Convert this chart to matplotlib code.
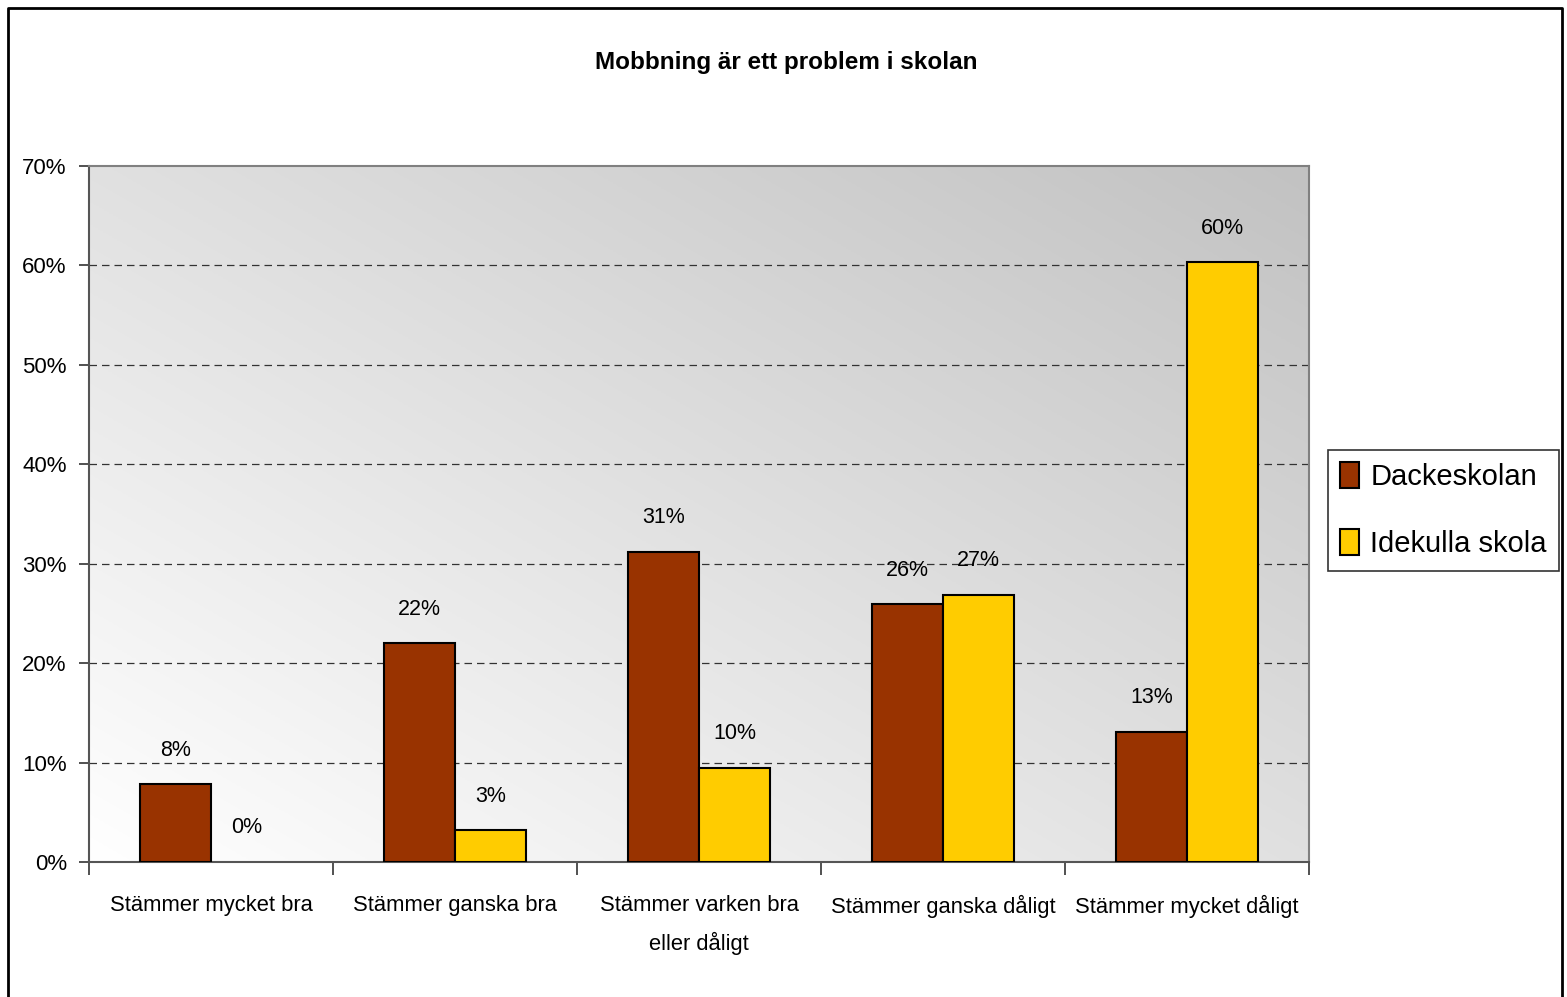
import matplotlib
matplotlib.use("Agg")
import matplotlib.pyplot as plt
import numpy as np
from matplotlib.lines import Line2D
from matplotlib.patches import Patch

categories = ["Stämmer mycket bra", "Stämmer ganska bra", "Stämmer varken bra\neller dåligt",
              "Stämmer ganska dåligt", "Stämmer mycket dåligt"]
series_names = ["Dackeskolan", "Idekulla skola"]
dacke = [7.8, 22.0, 31.2, 25.9, 13.1]
idekulla = [0.0, 3.2, 9.5, 26.9, 60.3]
dacke_labels = ["8%", "22%", "31%", "26%", "13%"]
idekulla_labels = ["0%", "3%", "10%", "27%", "60%"]
yticks = [0, 10, 20, 30, 40, 50, 60, 70]
ytick_labels = ["0%", "10%", "20%", "30%", "40%", "50%", "60%", "70%"]

FONT = ['Liberation Sans', 'DejaVu Sans']
plt.rcParams['font.family'] = FONT

W, H = 1567, 997
fig = plt.figure(figsize=(W / 100, H / 100), dpi=100)
L, R, T, B = 89, 1309, 166, 862
ax = fig.add_axes([L / W, (H - B) / H, (R - L) / W, (B - T) / H])

# gradient background
n = 256
xx, yy = np.meshgrid(np.linspace(0, 1, n), np.linspace(0, 1, n))
g = (xx + yy) / 2.0
c_lo = np.array([1.0, 1.0, 1.0])
c_hi = np.array([0.76, 0.76, 0.76])
img = c_lo[None, None, :] * (1 - g[..., None]) + c_hi[None, None, :] * g[..., None]
ax.imshow(img, extent=[-0.5, 4.5, 0, 70], origin='lower', aspect='auto', zorder=0)

x = np.arange(len(categories))
bw = 0.29
c1, c2 = "#993300", "#FFCC00"
b1 = ax.bar(x - bw / 2, dacke, bw, color=c1, edgecolor='black', linewidth=1.5, zorder=3)
b2 = ax.bar(x + bw / 2, idekulla, bw, color=c2, edgecolor='black', linewidth=1.5, zorder=3)
for p, v in zip(b2.patches, idekulla):
    if v == 0:
        p.set_linewidth(0)

for xi, v, lab in zip(x - bw / 2, dacke, dacke_labels):
    ax.annotate(lab, (xi, v), xytext=(0, 24.5), textcoords='offset points', ha='center', va='center',
                fontsize=15.5, zorder=5)
for xi, v, lab in zip(x + bw / 2, idekulla, idekulla_labels):
    ax.annotate(lab, (xi, v), xytext=(0, 24.5), textcoords='offset points', ha='center', va='center',
                fontsize=15.5, zorder=5)

ax.set_xlim(-0.5, 4.5)
ax.set_ylim(0, 70)
ax.set_yticks(yticks)
ax.set_yticklabels(ytick_labels, fontsize=16)
for yv in yticks[1:-1]:
    ax.axhline(yv, color='#333333', linestyle=(0, (6, 4)), linewidth=0.9, zorder=1)

ax.set_xticks(x)
ax.set_xticklabels(categories, fontsize=15.8, linespacing=1.85)
ax.tick_params(axis='x', length=0, pad=24)
ax.set_xticks(np.arange(-0.5, 5.0, 1.0), minor=True)
ax.tick_params(axis='x', which='minor', length=9, width=1.2, color='#333333', direction='out')
ax.tick_params(axis='y', length=7, width=1.2, color='#333333', direction='out', pad=9)

for s in ['left', 'bottom']:
    ax.spines[s].set_color('#555555')
    ax.spines[s].set_linewidth(1.5)
for s in ['top', 'right']:
    ax.spines[s].set_color('#808080')
    ax.spines[s].set_linewidth(1.5)

fig.text(786 / W, 1 - 62 / H, "Mobbning är ett problem i skolan", ha='center', va='center',
         fontsize=17.5, fontweight='bold')

handles = [Patch(facecolor=c1, edgecolor='black', linewidth=1.5, label=series_names[0]),
           Patch(facecolor=c2, edgecolor='black', linewidth=1.5, label=series_names[1])]
leg = fig.legend(handles=handles, loc='upper left', bbox_to_anchor=(1328 / W, 1 - 450 / H),
                 fontsize=21, frameon=True, fancybox=False, edgecolor='black',
                 handlelength=0.65, handleheight=1.0, handletextpad=0.38, labelspacing=1.3,
                 borderpad=0.42, borderaxespad=0)
leg.get_frame().set_linewidth(1.2)

# figure border (top, left, right)
fig.add_artist(Line2D([8 / W, 8 / W, 1562 / W, 1562 / W], [0, 1 - 8 / H, 1 - 8 / H, 0],
                      transform=fig.transFigure, color='black', linewidth=2))

fig.savefig("out.png", dpi=100, facecolor='white')
